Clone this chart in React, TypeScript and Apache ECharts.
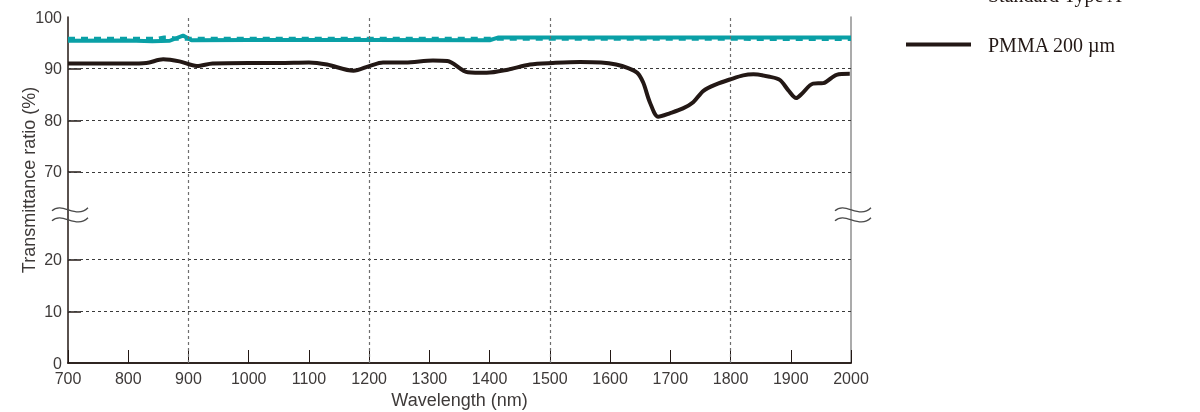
import React, { useEffect, useRef } from "react";
import * as echarts from "echarts";

// Wavelength (nm) and transmittance (%) for PMMA 200 µm
const pmmaWavelengths = [
  700, 760, 800, 830, 858, 885, 914, 940, 1000, 1050, 1100, 1130, 1174, 1200,
  1223, 1260, 1306, 1330, 1364, 1395, 1430, 1467, 1505, 1550, 1585, 1610, 1630,
  1645, 1655, 1666, 1680, 1700, 1721, 1738, 1755, 1777, 1799, 1821, 1838, 1866,
  1882, 1896, 1909, 1918, 1937, 1954, 1976, 1998,
];
const pmmaValues = [
  91.0, 91.0, 91.0, 91.1, 91.8, 91.4, 90.5, 91.0, 91.1, 91.1, 91.2, 90.8, 89.6,
  90.5, 91.2, 91.2, 91.6, 91.5, 89.3, 89.2, 89.8, 90.8, 91.1, 91.3, 91.2, 90.8,
  90.1, 89.2, 87.3, 83.5, 80.7, 81.4, 82.3, 83.5, 85.7, 87.0, 87.9, 88.7, 88.9,
  88.4, 87.8, 85.8, 84.3, 85.1, 87.1, 87.2, 88.8, 89.0,
];

// Standard Type A (solid)
const typeAWavelengths = [700, 800, 840, 869, 891, 905, 1000, 1200, 1400, 1415, 1600, 2000];
const typeAValues = [95.4, 95.45, 95.3, 95.4, 96.4, 95.5, 95.55, 95.55, 95.5, 96.05, 96.05, 96.05];

// Standard Type A (dashed)
const typeARefWavelengths = [700, 850, 860, 868, 880, 1400, 2000];
const typeARefValues = [95.8, 95.8, 96.05, 96.05, 95.8, 95.8, 95.75];

const yTickValues = [0, 10, 20, 70, 80, 90, 100];
const yGridValues = [10, 20, 70, 80, 90];
const xGridValues = [900, 1200, 1500, 1800];

// Broken y axis: 20–70 % collapsed into a short gap
const BREAK_SHIFT = 33;
const BREAK_AT = 45;
const toAxis = (v: number) => (v > BREAK_AT ? v - BREAK_SHIFT : v);
const fromAxis = (d: number) => (d > BREAK_AT - BREAK_SHIFT + 8 ? d + BREAK_SHIFT : d);
const Y_MAX = toAxis(100);
const BREAK_MARK_VALUE = (toAxis(20) + toAxis(70)) / 2;

const INK = "#231815";
const TEXT = "#3e3a39";
const TEAL = "#0aa0a6";
const SANS = "'Liberation Sans', Arial, sans-serif";
const SERIF = "'Liberation Serif', 'Times New Roman', serif";

const zip = (xs: number[], ys: number[]) => xs.map((x, i) => [x, toAxis(ys[i])]);

export default function App() {
  const ref = useRef<HTMLDivElement>(null);

  useEffect(() => {
    if (!ref.current) return;
    const chart = echarts.init(ref.current, undefined, { renderer: "svg" });

    const gridLine = {
      silent: true,
      symbol: "none",
      label: { show: false },
      animation: false,
      data: [
        ...yGridValues.map((v) => ({
          yAxis: toAxis(v),
          lineStyle: { color: "#3a3a3a", type: [3, 3], width: 1 },
        })),
        ...xGridValues.map((v) => ({
          xAxis: v,
          lineStyle: { color: "#6e6e6e", type: [3, 3], width: 1.2 },
        })),
      ],
    };

    chart.setOption({
      animation: false,
      grid: { left: 68, right: 349, top: 17, bottom: 49, containLabel: false, outerBoundsMode: "none" },
      xAxis: [
        {
          type: "value",
          min: 700,
          max: 2000,
          interval: 100,
          name: "Wavelength (nm)",
          nameLocation: "middle",
          nameGap: 28,
          nameMoveOverlap: false,
          nameTextStyle: { fontFamily: SANS, fontSize: 18, color: TEXT },
          axisLine: { show: true, lineStyle: { color: INK, width: 1.5 } },
          axisTick: { show: true, inside: true, length: 13, lineStyle: { color: INK, width: 1 } },
          axisLabel: {
            fontFamily: SANS,
            fontSize: 16,
            color: TEXT,
            margin: 7,
            formatter: (v: number) => String(v),
          },
          splitLine: { show: false },
        },
        {
          type: "value",
          position: "top",
          min: 700,
          max: 2000,
          axisLine: { show: true, lineStyle: { color: INK, width: 1.5 } },
          axisTick: { show: false },
          axisLabel: { show: false },
          splitLine: { show: false },
        },
      ],
      yAxis: [
        {
          type: "value",
          min: 0,
          max: Y_MAX,
          name: "Transmittance ratio (%)",
          nameLocation: "middle",
          nameGap: 30,
          nameMoveOverlap: false,
          nameTextStyle: { fontFamily: SANS, fontSize: 18, color: TEXT, padding: [0, 0, 0, 20] },
          axisLine: { show: true, lineStyle: { color: INK, width: 1.5 } },
          axisTick: {
            show: true,
            inside: true,
            length: 13,
            customValues: yGridValues.map(toAxis),
            lineStyle: { color: INK, width: 1.5 },
          },
          axisLabel: {
            fontFamily: SANS,
            fontSize: 16,
            color: TEXT,
            margin: 6,
            customValues: yTickValues.map(toAxis),
            formatter: (d: number) => String(Math.round(fromAxis(d))),
          },
          splitLine: { show: false },
        },
        {
          type: "value",
          position: "right",
          min: 0,
          max: Y_MAX,
          axisLine: { show: true, lineStyle: { color: "#8f8f8f", width: 1.5 } },
          axisTick: { show: false },
          axisLabel: { show: false },
          splitLine: { show: false },
        },
      ],
      series: [
        {
          name: "grid",
          type: "line",
          data: [],
          markLine: gridLine,
        },
        {
          name: "Standard Type A",
          type: "line",
          data: zip(typeAWavelengths, typeAValues),
          showSymbol: false,
          lineStyle: { color: TEAL, width: 4 },
          z: 3,
        },
        {
          name: "Standard Type A (dashed)",
          type: "line",
          data: zip(typeARefWavelengths, typeARefValues),
          showSymbol: false,
          lineStyle: { color: TEAL, width: 4, type: [7, 6] },
          z: 4,
        },
        {
          name: "PMMA 200 µm",
          type: "line",
          data: zip(pmmaWavelengths, pmmaValues),
          showSymbol: false,
          smooth: 0.3,
          lineStyle: { color: INK, width: 4 },
          z: 5,
        },
      ],
    });

    // Break marks on both vertical axes
    const [xl, yb] = chart.convertToPixel({ xAxisIndex: 0, yAxisIndex: 0 }, [700, BREAK_MARK_VALUE]) as number[];
    const [xr] = chart.convertToPixel({ xAxisIndex: 0, yAxisIndex: 0 }, [2000, BREAK_MARK_VALUE]) as number[];
    const wave = (cx: number, cy: number) => ({
      type: "bezierCurve",
      shape: {
        x1: cx - 18, y1: cy + 1,
        cpx1: cx - 8, cpy1: cy - 9,
        cpx2: cx + 6, cpy2: cy + 10,
        x2: cx + 18, y2: cy - 2,
      },
      style: { stroke: "#4a4a4a", lineWidth: 1.3, fill: "none" },
      z: 20,
    });
    const marks = [xl + 2, xr + 2].flatMap((cx) => [wave(cx, yb - 6), wave(cx, yb + 4)]);

    chart.setOption({
      graphic: [
        ...marks,
        {
          type: "text",
          left: 988,
          top: -15,
          style: { text: "Standard Type A", font: `20px ${SERIF}`, fill: INK },
        },
        {
          type: "line",
          shape: { x1: 906, y1: 44.5, x2: 971, y2: 44.5 },
          style: { stroke: INK, lineWidth: 4 },
        },
        {
          type: "text",
          left: 988,
          top: 35,
          style: { text: "PMMA 200 µm", font: `20px ${SERIF}`, fill: INK },
        },
      ],
    });

    return () => chart.dispose();
  }, []);

  return (
    <div
      ref={ref}
      style={{ position: "fixed", left: 0, top: 0, width: 1200, height: 412 }}
    />
  );
}
